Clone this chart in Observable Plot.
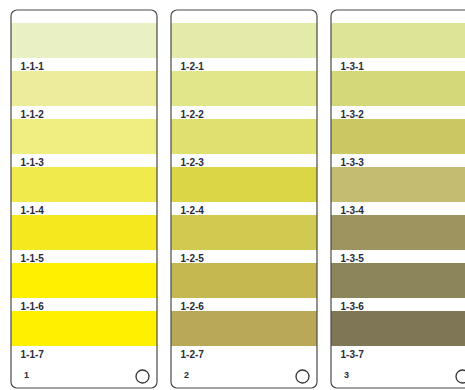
<!DOCTYPE html>
<html>
<head>
<meta charset="utf-8">
<script src="https://cdn.jsdelivr.net/npm/d3@7"></script>
<script src="https://cdn.jsdelivr.net/npm/@observablehq/plot@0.6"></script>
<style>
  html, body { margin: 0; padding: 0; background: #fff; }
</style>
</head>
<body>
<div id="chart"></div>
<script>
const cards = [1, 2, 3];
const rows = [1, 2, 3, 4, 5, 6, 7];
const colors1 = ["#e8f0c4", "#ecec9a", "#f0ee80", "#f0ea4c", "#f3e91e", "#fff000", "#fff000"];
const colors2 = ["#e4eaa8", "#e2e68a", "#dfe070", "#dbd646", "#d0ca50", "#c5b850", "#b8a858"];
const colors3 = ["#dde498", "#d4d878", "#cbc864", "#c4bc70", "#9e9460", "#8c855a", "#7e7655"];
const cardColors = [colors1, colors2, colors3];

const swatches = [];
cards.forEach((c, ci) => rows.forEach((r, ri) => {
  swatches.push({card: c, row: r, color: cardColors[ci][ri], label: `1-${c}-${r}`});
}));
const cardData = cards.map(c => ({card: c, label: String(c)}));

const chart = Plot.plot({
  width: 465,
  height: 390,
  marginTop: 10,
  marginBottom: 2,
  marginLeft: 11,
  marginRight: 0,
  style: {fontFamily: "Liberation Sans, Arial, sans-serif", background: "#fff"},
  x: {type: "band", domain: cards, range: [11, 477], paddingInner: 14 / 160, paddingOuter: 0, axis: null},
  y: {type: "band", domain: rows, range: [23, 346], paddingInner: 13 / 48, paddingOuter: 0, axis: null},
  color: {type: "identity"},
  marks: [
    Plot.cell(swatches, {x: "card", y: "row", fill: "color", inset: 0}),
    Plot.cell(cardData, {x: "card", fill: "none", stroke: "#4a4a4a", strokeWidth: 1.2, rx: 6, inset: 0}),
    Plot.text(swatches, {x: "card", y: "row", text: "label", textAnchor: "start", dx: -64, dy: 26, fontSize: 10, fontWeight: 600, letterSpacing: "-0.3px", fill: "#2a2a3a"}),
    Plot.text(cardData, {x: "card", text: "label", frameAnchor: "bottom", dx: -58, dy: -11, fontSize: 9, fontWeight: "bold", fill: "#2a2a3a"}),
    Plot.dot(cardData, {x: "card", frameAnchor: "bottom", dx: 58, dy: -12, r: 6.5, stroke: "#333", strokeWidth: 1.3, fill: "none"})
  ]
});
document.getElementById("chart").appendChild(chart);
</script>
</body>
</html>
